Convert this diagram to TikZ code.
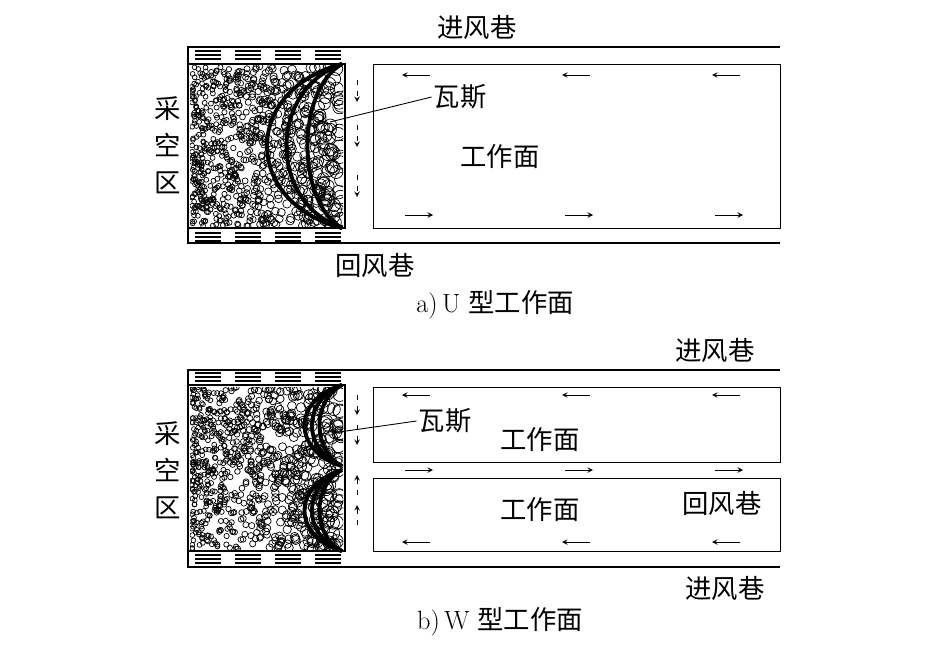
\documentclass[tikz,border=0pt]{standalone}
\usepackage{fontspec}
\newfontfamily\cjk{Noto Sans CJK SC}
\begin{document}
\begin{tikzpicture}[x=0.02cm,y=-0.02cm,
  wall/.style={draw, line width=0.6pt},
  gas/.style={line width=2.2pt},
  flow/.style={->, >=stealth, line width=0.4pt},
  hatch/.style={line width=1pt},
  cjklabel/.style={font=\cjk\fontsize{15}{15}\selectfont, inner sep=1pt},
  caption/.style={font=\fontsize{15}{15}\selectfont}
]
  \useasboundingbox (0,0) rectangle (945,662);

  % ---- panel a) U type
  \draw[wall] (780,47) -- (188,47) -- (188,243) -- (780,243);
  \draw[wall] (188,64) -- (345,64) -- (345,228) -- (188,228);
  \node[draw, line width=0.6pt, minimum width=8.14cm, minimum height=3.28cm, anchor=north west, inner sep=0] (faceU) at (373,64) {};
  \begin{scope}
    \clip (190,66) rectangle (343,226);
    \pgfmathsetseed{7}
    \foreach \k in {1,...,850}{
      \pgfmathsetmacro{\u}{rnd^1.4}
      \pgfmathsetmacro{\cx}{192+150*\u}
      \pgfmathsetmacro{\cy}{66+160*rnd}
      \pgfmathsetmacro{\cr}{2.4+4.5*\u*\u}
      \draw[line width=0.4pt] (\cx,\cy) circle [radius=\cr];
    }
  \end{scope}
  \foreach \hx in {195,235,275,315}{
    \foreach \hy in {51,55,59}{ \draw[hatch] (\hx,\hy) -- ++(26,0); }
    \foreach \hy in {233,237,241}{ \draw[hatch] (\hx,\hy) -- ++(26,0); }
  }
  \coordinate (gaU1) at (342,64);
  \coordinate (gaU2) at (342,228);
  \foreach \d in {100,74,46}{
    \draw[gas] (gaU1) .. controls (342-\d,90) and (342-\d,202) .. (gaU2);
  }
  \foreach \ay in {80,125,175}{ \draw[flow, dashed] (357,\ay) -- ++(0,22); }
  \foreach \ax in {410,570,720}{
    \draw[flow] (\ax+20,75) -- ++(-28,0);
    \draw[flow] (\ax-5,215) -- ++(28,0);
  }
  \node[cjklabel] (gasU) at (460,97) {瓦斯};
  \coordinate (gasUpt) at (330,122);
  \draw[line width=0.5pt] (gasU.west) -- (gasUpt);
  \node[cjklabel] (faceUlbl) at (500,157) {工作面};
  \node[cjklabel] (inU) at (477,28) {进风巷};
  \node[cjklabel] (retU) at (375,265) {回风巷};
  \node[cjklabel, align=center] (goafU) at (168,145) {采\\[6pt]空\\[6pt]区};
  \node[caption] (capU) at (495,305) {a)\,U {\cjk 型工作面}};

  % ---- panel b) W type
  \draw[wall] (780,370) -- (188,370) -- (188,567) -- (780,567);
  \draw[wall] (188,385) -- (345,385) -- (345,551) -- (188,551);
  \node[draw, line width=0.6pt, minimum width=8.14cm, minimum height=1.5cm, anchor=north west, inner sep=0] (faceW1) at (373,387) {};
  \node[draw, line width=0.6pt, minimum width=8.14cm, minimum height=1.46cm, anchor=north west, inner sep=0] (faceW2) at (373,478) {};
  \begin{scope}
    \clip (190,387) rectangle (343,549);
    \pgfmathsetseed{11}
    \foreach \k in {1,...,850}{
      \pgfmathsetmacro{\u}{rnd^1.4}
      \pgfmathsetmacro{\cx}{192+150*\u}
      \pgfmathsetmacro{\cy}{387+162*rnd}
      \pgfmathsetmacro{\cr}{2.4+4.5*\u*\u}
      \draw[line width=0.4pt] (\cx,\cy) circle [radius=\cr];
    }
  \end{scope}
  \foreach \hx in {195,235,275,315}{
    \foreach \hy in {373,377,381}{ \draw[hatch] (\hx,\hy) -- ++(26,0); }
    \foreach \hy in {555,559,563}{ \draw[hatch] (\hx,\hy) -- ++(26,0); }
  }
  \coordinate (gaW1) at (342,385);
  \coordinate (gaW2) at (342,466);
  \coordinate (gaW3) at (342,470);
  \coordinate (gaW4) at (342,551);
  \foreach \d in {50,40,30}{
    \draw[gas] (gaW1) .. controls (342-\d,400) and (342-\d,451) .. (gaW2);
    \draw[gas] (gaW3) .. controls (342-\d,485) and (342-\d,536) .. (gaW4);
  }
  \foreach \ay in {395,425}{ \draw[flow, dashed] (357,\ay) -- ++(0,20); }
  \foreach \ay in {525,495}{ \draw[flow, dashed] (357,\ay) -- ++(0,-20); }
  \foreach \ax in {410,570,720}{
    \draw[flow] (\ax+20,395) -- ++(-28,0);
    \draw[flow] (\ax-5,470) -- ++(28,0);
    \draw[flow] (\ax+20,542) -- ++(-28,0);
  }
  \node[cjklabel] (gasW) at (445,421) {瓦斯};
  \coordinate (gasWpt) at (332,433);
  \draw[line width=0.5pt] (gasW.west) -- (gasWpt);
  \node[cjklabel] (faceW1lbl) at (540,440) {工作面};
  \node[cjklabel] (faceW2lbl) at (540,510) {工作面};
  \node[cjklabel] (retW) at (722,503) {回风巷};
  \node[cjklabel] (inW1) at (715,350) {进风巷};
  \node[cjklabel] (inW2) at (725,588) {进风巷};
  \node[cjklabel, align=center] (goafW) at (168,470) {采\\[6pt]空\\[6pt]区};
  \node[caption] (capW) at (500,622) {b)\,W {\cjk 型工作面}};
\end{tikzpicture}
\end{document}
